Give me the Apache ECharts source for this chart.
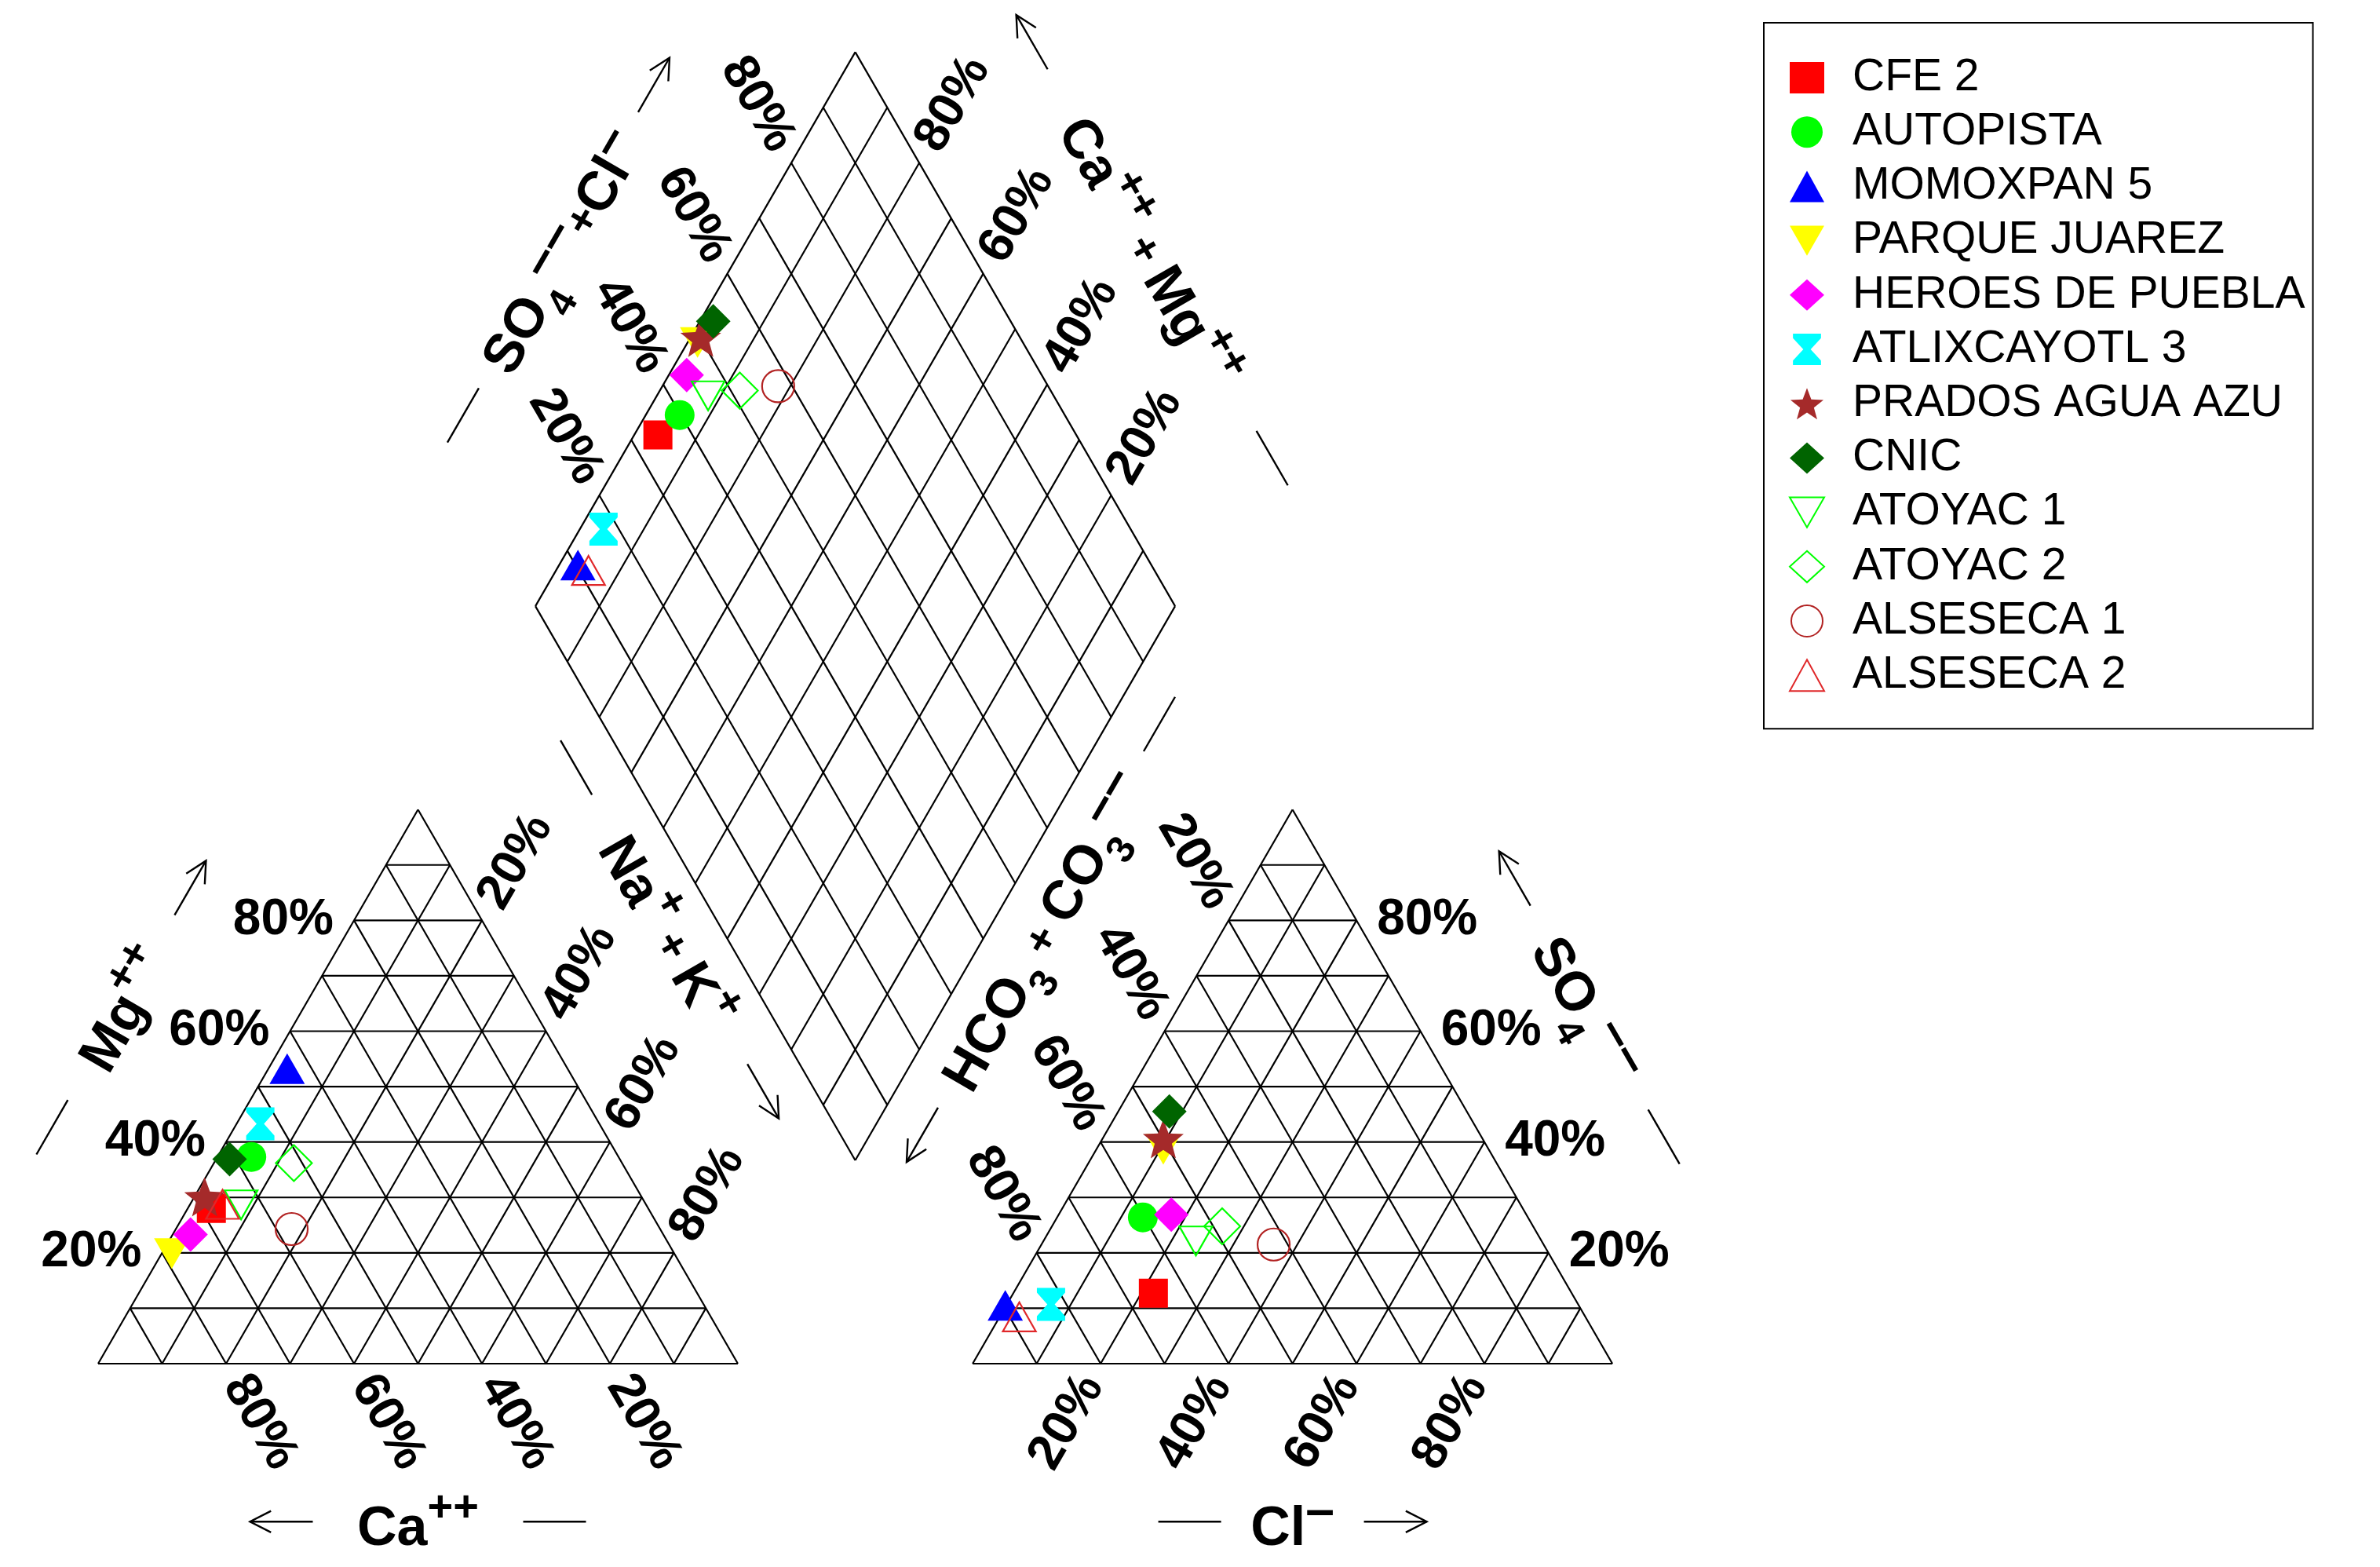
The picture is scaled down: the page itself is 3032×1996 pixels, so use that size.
<!DOCTYPE html>
<html><head><meta charset="utf-8">
<script src="https://cdn.jsdelivr.net/npm/echarts@6/dist/echarts.min.js"></script>
<style>html,body{margin:0;padding:0;background:#fff}#c{width:3032px;height:1996px}</style>
</head><body><div id="c"></div>
<script>
// ---------------- data (percent of meq) ----------------
const samples = ['CFE 2','AUTOPISTA','MOMOXPAN 5','PARQUE JUAREZ','HEROES DE PUEBLA','ATLIXCAYOTL 3','PRADOS AGUA AZU','CNIC','ATOYAC 1','ATOYAC 2','ALSESECA 1','ALSESECA 2'];
const caPct   = [68.3, 57.4, 44.3, 78.1, 73.9, 53.0, 68.3, 61.0, 62.9, 51.3, 57.6, 66.6];
const mgPct   = [28.0, 37.3, 52.3, 20.8, 23.3, 43.3, 30.1, 36.9, 29.5, 36.2, 24.3, 27.9];
const nakPct  = [ 3.7,  5.3,  3.4,  1.1,  2.8,  3.7,  1.6,  2.1,  7.6, 12.5, 18.1,  5.5];
const hco3Pct = [65.4, 60.2, 90.1, 50.4, 55.5, 82.4, 49.9, 46.5, 53.6, 48.6, 42.2, 88.9];
const so4Pct  = [12.7, 26.4,  9.6, 39.6, 26.9, 10.7, 40.6, 45.5, 23.0, 24.8, 21.5,  7.6];
const clPct   = [21.9, 13.4,  0.3, 10.0, 17.6,  6.9,  9.5,  8.0, 23.4, 26.6, 36.3,  3.5];
const gridPct = [10, 20, 30, 40, 50, 60, 70, 80, 90];
const tickPct = [20, 40, 60, 80];

// ---------------- styles ----------------
const FF = '"Liberation Sans", Arial, sans-serif';
const DOWN_TRI = 'path://M0,0 L20,0 L10,17.32 Z';
const STAR = 'path://M50,0 L62.34,33.01 L97.55,34.55 L69.97,56.49 L79.39,90.45 L50,71 L20.61,90.45 L30.03,56.49 L2.45,34.55 L37.66,33.01 Z';
const HOURGLASS = 'path://M0,0 L10,0 L10,1.6 L6.3,5.6 L10,9.6 L10,11.2 L0,11.2 L0,9.6 L3.7,5.6 L0,1.6 Z';
const markStyles = [
  {symbol:'rect', size:37, color:'#FF0000'},
  {symbol:'circle', size:38, color:'#00FF00'},
  {symbol:'triangle', size:[45,39], offset:[0,-6.5], color:'#0000FF'},
  {symbol:DOWN_TRI, size:[45,39], offset:[0,6.5], color:'#FFFF00'},
  {symbol:'diamond', size:44, color:'#FF00FF'},
  {symbol:HOURGLASS, size:[36,42], color:'#00FFFF'},
  {symbol:STAR, size:[52,50], color:'#A52A2A'},
  {symbol:'diamond', size:44, color:'#006400'},
  {symbol:DOWN_TRI, size:[42,37], offset:[0,6], color:'#00FF00', hollow:true},
  {symbol:'diamond', size:46, color:'#00FF00', hollow:true},
  {symbol:'circle', size:41, color:'#B22222', hollow:true},
  {symbol:'triangle', size:[42,37], offset:[0,-6], color:'#E0282A', hollow:true}
];

// ---------------- Piper geometry (side = 1 unit) ----------------
const S3 = Math.sqrt(3) / 2;
const GAP = 0.367;
const OX = 1 + GAP;
const DB = [1 + GAP / 2, GAP * S3];
const DL = [DB[0] - 0.5, DB[1] + S3];
function cat(ca, mg, na) { const s = ca + mg + na; mg /= s; na /= s; return [na + mg / 2, mg * S3]; }
function ani(hc, so, cl) { const s = hc + so + cl; so /= s; cl /= s; return [OX + cl + so / 2, so * S3]; }
function dia(sAn, nCat) { return [DL[0] + 0.5 * (sAn + nCat), DL[1] + S3 * (sAn - nCat)]; }

// grid segments
const segs = [];
function addTri(ox) {
  segs.push([ox, 0, ox + 1, 0], [ox, 0, ox + 0.5, S3], [ox + 1, 0, ox + 0.5, S3]);
  gridPct.forEach(p => {
    const f = p / 100;
    segs.push([ox + f / 2, f * S3, ox + 1 - f / 2, f * S3]);
    segs.push([ox + f, 0, ox + f + (1 - f) / 2, (1 - f) * S3]);
    segs.push([ox + 1 - f, 0, ox + (1 - f) / 2, (1 - f) * S3]);
  });
}
addTri(0); addTri(OX);
[0].concat(gridPct.map(p => p / 100), [1]).forEach(t => {
  const a = dia(t, 0), b = dia(t, 1); segs.push([a[0], a[1], b[0], b[1]]);
  const c = dia(0, t), d = dia(1, t); segs.push([c[0], c[1], d[0], d[1]]);
});

// tick labels
const E = 0.027, H = 0.032;
const tickLabels = [];
tickPct.forEach(v => {
  const f = v / 100, t = v + '%';
  tickLabels.push({p:[f / 2 - H, f * S3], t, rot:0, align:'right'});                                   // Mg
  tickLabels.push({p:[1 - f + 0.5 * E, -S3 * E], t, rot:-60, align:'left'});                           // Ca
  tickLabels.push({p:[f + (1 - f) / 2 + 0.5 * E, (1 - f) * S3 + S3 * E], t, rot:60, align:'left'});     // Na+K
  tickLabels.push({p:[OX + 1 - f / 2 + H, f * S3], t, rot:0, align:'left'});                            // SO4
  tickLabels.push({p:[OX + f - 0.5 * E, -S3 * E], t, rot:60, align:'right'});                           // Cl
  tickLabels.push({p:[OX + (1 - f) / 2 - 0.5 * E, (1 - f) * S3 + S3 * E], t, rot:-60, align:'right'});  // HCO3
  const a = dia(f, 0); tickLabels.push({p:[a[0] - 0.5 * E, a[1] + S3 * E], t, rot:-60, align:'right'}); // SO4+Cl
  const b = dia(1, 1 - f); tickLabels.push({p:[b[0] + 0.5 * E, b[1] + S3 * E], t, rot:60, align:'left'}); // Ca+Mg
});

// axis titles
const OFF = 0.247, SH = 0.141;
function place(mid, nrm, dir, shift) { return [mid[0] + nrm[0] * OFF + dir[0] * shift, mid[1] + nrm[1] * OFF + dir[1] * shift]; }
const titleDefs = [
  {p:place([0.5, 0], [0, -1], [1, 0], 0), text:'{m|Ca}{p|++}', rot:0, arrow:'start', inner:134},
  {p:place([0.25, S3 / 2], [-S3, 0.5], [0.5, S3], 0), text:'{m|Mg}{p|++}', rot:60, arrow:'end', inner:136},
  {p:place([0.75, S3 / 2], [S3, 0.5], [-0.5, S3], SH), text:'{m|Na}{p|+}{o| + }{m|K}{p|+}', rot:-60, arrow:'end', inner:198},
  {p:place([OX + 0.5, 0], [0, -1], [1, 0], 0), text:'{m|Cl}{q|–}', rot:0, arrow:'end', inner:91},
  {p:place([OX + 0.75, S3 / 2], [S3, 0.5], [-0.5, S3], 0), text:'{m|SO}{b|4}{q|––}', rot:-60, arrow:'start', inner:150},
  {p:place([OX + 0.25, S3 / 2], [-S3, 0.5], [0.5, S3], SH), text:'{m|HCO}{b|3}{o| + }{m|CO}{b|3}{q|––}', rot:60, arrow:'start', inner:262},
  {p:place(dia(0.5, 0), [-S3, 0.5], [0.5, S3], 0), text:'{m|SO}{b|4}{q|––}{o|+}{m|Cl}{q|–}', rot:60, arrow:'end', inner:203},
  {p:place(dia(1, 0.5), [S3, 0.5], [0.5, -S3], 0), text:'{m|Ca}{p|++}{o| + }{m|Mg}{p|++}', rot:-60, arrow:'start', inner:266}
];
const RICH = {
  m: {fontFamily:FF, fontWeight:'bold', fontSize:70, lineHeight:110, verticalAlign:'middle', fill:'#000'},
  p: {fontFamily:FF, fontWeight:'bold', fontSize:56, lineHeight:40, verticalAlign:'top', fill:'#000'},
  q: {fontFamily:FF, fontWeight:'bold', fontSize:66, lineHeight:40, verticalAlign:'top', fill:'#000'},
  b: {fontFamily:FF, fontWeight:'bold', fontSize:50, lineHeight:64, verticalAlign:'bottom', fill:'#000'},
  o: {fontFamily:FF, fontWeight:'bold', fontSize:56, lineHeight:110, verticalAlign:'middle', fill:'#000'}
};

// ---------------- chart ----------------
const chart = echarts.init(document.getElementById('c'), null, {renderer:'canvas'});
const series = [];
series.push({
  type:'custom', name:'grid', coordinateSystem:'cartesian2d', data:segs, encode:{x:[0, 2], y:[1, 3]},
  clip:false, silent:true, z:1,
  renderItem:(params, api) => {
    const a = api.coord([api.value(0), api.value(1)]), b = api.coord([api.value(2), api.value(3)]);
    return {type:'line', shape:{x1:a[0], y1:a[1], x2:b[0], y2:b[1]}, style:{stroke:'#000', lineWidth:2.2}};
  }
});
series.push({
  type:'custom', name:'ticks', coordinateSystem:'cartesian2d', data:tickLabels.map(l => l.p), encode:{x:0, y:1},
  clip:false, silent:true, z:3,
  renderItem:(params, api) => {
    const l = tickLabels[params.dataIndex];
    const c = api.coord([api.value(0), api.value(1)]);
    return {type:'text', x:c[0], y:c[1], rotation:l.rot * Math.PI / 180,
      style:{text:l.t, fontFamily:FF, fontWeight:'bold', fontSize:64, align:l.align, verticalAlign:'middle', fill:'#000'}};
  }
});
series.push({
  type:'custom', name:'titles', coordinateSystem:'cartesian2d', data:titleDefs.map(t => t.p), encode:{x:0, y:1},
  clip:false, silent:true, z:3,
  renderItem:(params, api) => {
    const t = titleDefs[params.dataIndex];
    const c = api.coord([api.value(0), api.value(1)]);
    const th = t.rot * Math.PI / 180;
    const d = [Math.cos(th), -Math.sin(th)];
    const dn = [Math.sin(th), Math.cos(th)];
    const L = 80, inner = t.inner, TDY = 10;
    const pt = k => [c[0] + d[0] * k, c[1] + d[1] * k];
    const s1 = pt(-inner - L), s2 = pt(-inner), e1 = pt(inner), e2 = pt(inner + L);
    let tip, u;
    if (t.arrow === 'start') { tip = s1; u = [-d[0], -d[1]]; } else { tip = e2; u = d; }
    const ang = 27 * Math.PI / 180, bl = 30;
    const r = (v, a) => [v[0] * Math.cos(a) - v[1] * Math.sin(a), v[0] * Math.sin(a) + v[1] * Math.cos(a)];
    const b1 = r(u, ang), b2 = r(u, -ang);
    const ls = {stroke:'#000', lineWidth:2.4};
    return {type:'group', children:[
      {type:'text', x:c[0] + dn[0] * TDY, y:c[1] + dn[1] * TDY, rotation:th,
        style:{text:t.text, rich:RICH, align:'center', verticalAlign:'middle', fill:'#000'}},
      {type:'line', shape:{x1:s1[0], y1:s1[1], x2:s2[0], y2:s2[1]}, style:ls},
      {type:'line', shape:{x1:e1[0], y1:e1[1], x2:e2[0], y2:e2[1]}, style:ls},
      {type:'polyline', shape:{points:[[tip[0] - b1[0] * bl, tip[1] - b1[1] * bl], tip, [tip[0] - b2[0] * bl, tip[1] - b2[1] * bl]]},
        style:{stroke:'#000', lineWidth:2.4, fill:null}}
    ]};
  }
});
samples.forEach((name, i) => {
  const st = markStyles[i];
  const c = cat(caPct[i], mgPct[i], nakPct[i]);
  const a = ani(hco3Pct[i], so4Pct[i], clPct[i]);
  const anSum = hco3Pct[i] + so4Pct[i] + clPct[i], catSum = caPct[i] + mgPct[i] + nakPct[i];
  const d = dia((so4Pct[i] + clPct[i]) / anSum, nakPct[i] / catSum);
  series.push({
    type:'scatter', name, data:[c, a, d], symbol:st.symbol, symbolSize:st.size,
    symbolOffset:st.offset || [0, 0], clip:false, z:5, silent:true,
    itemStyle: st.hollow ? {color:'transparent', borderColor:st.color, borderWidth:2.2, opacity:1}
                         : {color:st.color, borderWidth:0, opacity:1}
  });
});

chart.setOption({
  animation:false,
  backgroundColor:'#fff',
  grid:{left:2.75, width:3015.5, bottom:14.5, height:1956, containLabel:false},
  xAxis:{type:'value', min:-0.15, max:3.55, show:false},
  yAxis:{type:'value', min:-0.3, max:2.1, show:false},
  legend:{
    data:samples, orient:'vertical', left:2247, top:29,
    padding:[40, 10, 38, 32], itemWidth:44, itemHeight:40, itemGap:9.2,
    borderColor:'#000', borderWidth:2, backgroundColor:'#fff', selectedMode:false,
    textStyle:{fontFamily:FF, fontSize:57, color:'#000', lineHeight:60, padding:[0, 0, 0, 31]}
  },
  series
});
</script>
</body></html>
